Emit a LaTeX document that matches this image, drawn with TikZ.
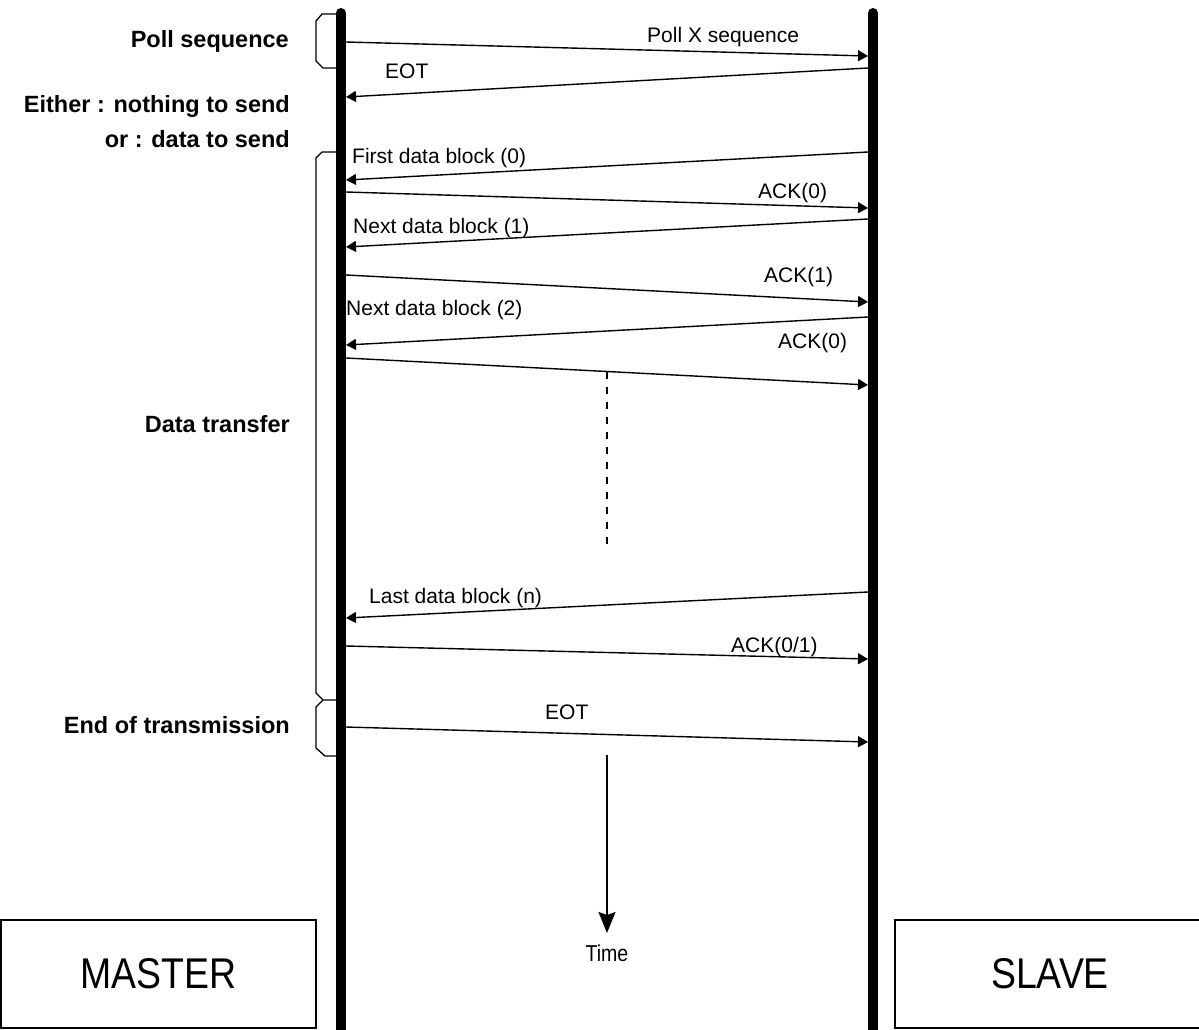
\documentclass[tikz,border=0pt]{standalone}
\usepackage{fontspec}
\setmainfont{Liberation Sans}
\usetikzlibrary{arrows.meta}
\begin{document}
\begin{tikzpicture}[x=1pt,y=-1pt,
  lifeline/.style={line width=10pt,line cap=round},
  msg/.style={line width=1.4pt,-{Triangle[length=10pt,width=11pt]}},
  lbl/.style={font=\fontsize{21}{24}\selectfont,inner sep=0pt,anchor=base west},
  side/.style={font=\fontsize{23.5}{27}\selectfont\bfseries,inner sep=0pt,anchor=base east},
  bracket/.style={line width=1.3pt},
  actor/.style={draw,line width=2pt,inner sep=0pt},
  gap/.style={line width=2pt,dash pattern=on 7pt off 8pt},
  timearrow/.style={line width=1.8pt,-{Stealth[length=21pt,width=17pt,inset=3pt]}},
]
\useasboundingbox (0,0) rectangle (1199,1030);

% side labels
\node[side] (sPoll) at (289,48) {Poll sequence};
\node[side] (sEither) at (290,113) {Either : nothing to send};
\node[side] (sOr) at (290,147) {or : data to send};
\node[side] (sData) at (290,432) {Data transfer};
\node[side] (sEnd) at (290,733) {End of transmission};

% brackets
\draw[bracket] (336,14) -- (322,14) -- (316,21) -- (316,61) -- (323,68) -- (336,68);
\draw[bracket] (336,152) -- (322,152) -- (316,158) -- (316,693) -- (323,700) -- (336,700);
\draw[bracket] (323,700) -- (316,707) -- (316,748) -- (325,756) -- (336,756);

% message end points
\coordinate (m1) at (346,42);  \coordinate (s1) at (868,56);
\coordinate (s2) at (868,68);  \coordinate (m2) at (346,97);
\coordinate (s3) at (868,152); \coordinate (m3) at (346,180);
\coordinate (m4) at (346,192); \coordinate (s4) at (868,208);
\coordinate (s5) at (868,219); \coordinate (m5) at (346,247);
\coordinate (m6) at (346,275); \coordinate (s6) at (868,302);
\coordinate (s7) at (868,317); \coordinate (m7) at (346,345);
\coordinate (m8) at (346,358); \coordinate (s8) at (868,385);
\coordinate (s9) at (868,592); \coordinate (m9) at (346,618);
\coordinate (m10) at (346,646); \coordinate (s10) at (868,659);
\coordinate (m11) at (346,727); \coordinate (s11) at (868,742);

\draw[msg] (m1) -- (s1);
\draw[msg] (s2) -- (m2);
\draw[msg] (s3) -- (m3);
\draw[msg] (m4) -- (s4);
\draw[msg] (s5) -- (m5);
\draw[msg] (m6) -- (s6);
\draw[msg] (s7) -- (m7);
\draw[msg] (m8) -- (s8);
\draw[msg] (s9) -- (m9);
\draw[msg] (m10) -- (s10);
\draw[msg] (m11) -- (s11);

% message labels
\node[lbl] (l1) at (647,43) {Poll X sequence};
\node[lbl] (l2) at (385,79) {EOT};
\node[lbl] (l3) at (352,163) {First data block (0)};
\node[lbl] (l4) at (758,198) {ACK(0)};
\node[lbl] (l5) at (353,233) {Next data block (1)};
\node[lbl] (l6) at (764,282) {ACK(1)};
\node[lbl] (l7) at (346,315) {Next data block (2)};
\node[lbl] (l8) at (778,348) {ACK(0)};
\node[lbl] (l9) at (369,603) {Last data block (n)};
\node[lbl] (l10) at (731,652) {ACK(0/1)};
\node[lbl] (l11) at (545,719) {EOT};

% continuation
\coordinate (d1) at (607,372); \coordinate (d2) at (607,548);
\draw[gap] (d1) -- (d2);

% time arrow
\coordinate (t1) at (607,755); \coordinate (t2) at (607,933);
\draw[timearrow] (t1) -- (t2);
\node[inner sep=0pt] (time) at (607,953) {\scalebox{0.85}[1]{\fontsize{23}{26}\selectfont Time}};

% lifelines
\coordinate (mt) at (341,13); \coordinate (mb) at (341,1040);
\coordinate (st) at (873,13); \coordinate (sb) at (873,1040);
\draw[lifeline] (mt) -- (mb);
\draw[lifeline] (st) -- (sb);

% actors
\node[actor,minimum width=315pt,minimum height=108pt] (master) at (158.5,974)
  {\scalebox{0.87}[1]{\fontsize{43}{48}\selectfont MASTER}};
\node[actor,minimum width=310pt,minimum height=108pt] (slave) at (1050,974)
  {\scalebox{0.87}[1]{\fontsize{43}{48}\selectfont SLAVE}};
\end{tikzpicture}
\end{document}
